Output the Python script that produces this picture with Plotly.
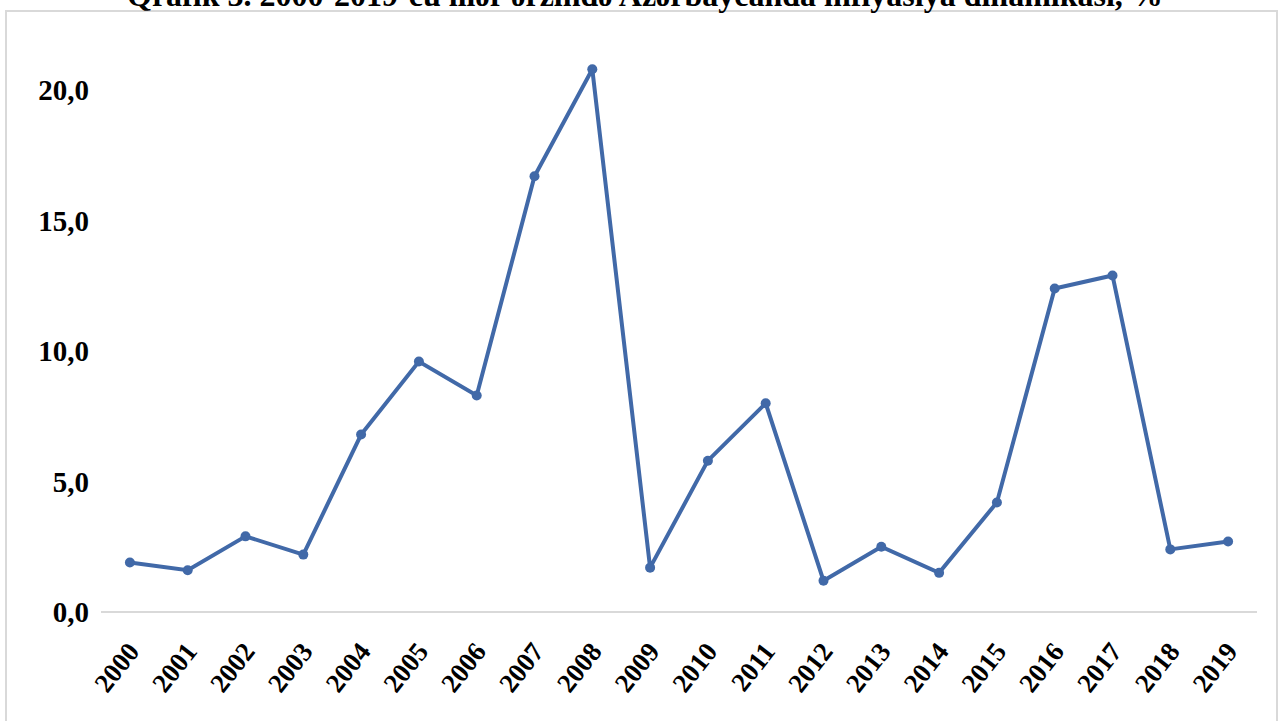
import plotly.graph_objects as go

# Annual inflation in Azerbaijan, %
years = [str(y) for y in range(2000, 2020)]
inflation = [1.9, 1.6, 2.9, 2.2, 6.8, 9.6, 8.3, 16.7, 20.8, 1.7,
             5.8, 8.0, 1.2, 2.5, 1.5, 4.2, 12.4, 12.9, 2.4, 2.7]
y_ticks = [0, 5, 10, 15, 20]
y_tick_text = ["0,0", "5,0", "10,0", "15,0", "20,0"]
title_text = "Qrafik 3. 2000-2019-cu illər ərzində Azərbaycanda inflyasiya dinamikası, %"

W, H = 1280, 721
ML, MR, MT, MB = 101, 23, 38, 109
Y_MAX = 22.0
plot_w = W - ML - MR
plot_h = H - MT - MB


def px_x(px):
    return (px - ML) / plot_w


def px_y(py):
    return (H - MB - py) / plot_h


serif = "Liberation Serif, Times New Roman, serif"
blue = "#4169A8"

fig = go.Figure(
    go.Scatter(
        x=years,
        y=inflation,
        mode="lines+markers",
        line=dict(color=blue, width=4),
        marker=dict(color=blue, size=10, symbol="circle"),
        hoverinfo="x+y",
    )
)

fig.update_layout(
    width=W,
    height=H,
    margin=dict(l=ML, r=MR, t=MT, b=MB),
    paper_bgcolor="white",
    plot_bgcolor="white",
    showlegend=False,
    font=dict(family=serif, color="black"),
    xaxis=dict(
        type="category",
        range=[-0.5, len(years) - 0.5],
        showgrid=False,
        zeroline=False,
        showline=False,
        ticks="",
        tickangle=-52,
        tickfont=dict(family=serif, size=27, color="black", weight="bold"),
        ticklabelstandoff=17,
    ),
    yaxis=dict(
        range=[0, Y_MAX],
        tickvals=y_ticks,
        ticktext=y_tick_text,
        showgrid=False,
        zeroline=True,
        zerolinecolor="#d9d9d9",
        zerolinewidth=2,
        showline=False,
        ticks="",
        tickfont=dict(family=serif, size=29, color="black", weight="bold"),
        ticklabelstandoff=11,
    ),
    shapes=[
        dict(
            type="rect",
            xref="paper", yref="paper",
            x0=px_x(6), x1=px_x(1277),
            y0=px_y(740), y1=px_y(11),
            line=dict(color="#d9d9d9", width=2),
            fillcolor="rgba(0,0,0,0)",
            layer="below",
        )
    ],
    annotations=[
        dict(
            text=title_text,
            xref="paper", yref="paper",
            x=px_x(645), y=px_y(15),
            xanchor="center", yanchor="bottom",
            showarrow=False,
            font=dict(family=serif, size=32, color="black", weight="bold"),
        )
    ],
)

fig.write_html("out.html")
